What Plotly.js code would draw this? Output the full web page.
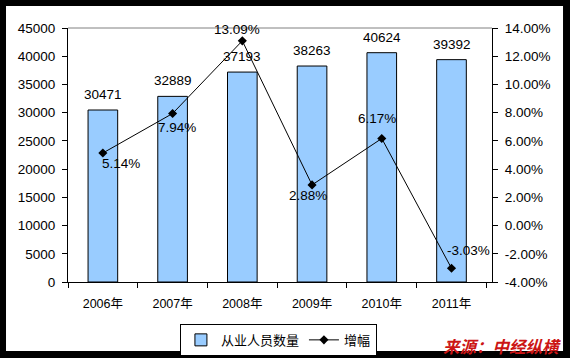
<!DOCTYPE html>
<html>
<head>
<meta charset="utf-8">
<script src="https://cdn.plot.ly/plotly-3.0.1.min.js"></script>
<style>
html,body{margin:0;padding:0;background:#000;}
#chart{width:570px;height:358px;}
</style>
</head>
<body>
<div id="chart"></div>
<script>
var years = ['2006年','2007年','2008年','2009年','2010年','2011年'];
var employees = [30471, 32889, 37193, 38263, 40624, 39392];
var growth = [5.14, 7.94, 13.09, 2.88, 6.17, -3.03];
var leftTicks = [0,5000,10000,15000,20000,25000,30000,35000,40000,45000];
var rightTicks = [-4,-2,0,2,4,6,8,10,12,14];
var rightTickText = ['-4.00%','-2.00%','0.00%','2.00%','4.00%','6.00%','8.00%','10.00%','12.00%','14.00%'];
// label offsets (pixels) for growth labels
var growthLabelDx = [18, 4, -5, -4, -5, 17];
var growthLabelDy = [-10, -14, 11, -11, 20, 18];

var fontFam = 'Arial, "Liberation Sans", "Noto Sans CJK SC", sans-serif';

var traces = [
  {
    type: 'bar', name: '从业人员数量', x: years, y: employees,
    width: 0.425,
    marker: {color: '#99CCFF', line: {color: '#000000', width: 1}},
    hoverinfo: 'none'
  },
  {
    type: 'scatter', mode: 'lines+markers', name: '增幅', x: years, y: growth,
    yaxis: 'y2',
    line: {color: '#000000', width: 1},
    marker: {symbol: 'diamond', size: 7, color: '#000000'},
    hoverinfo: 'none', cliponaxis: false
  }
];

var annotations = [];
for (var i = 0; i < years.length; i++) {
  annotations.push({
    x: years[i], y: employees[i], xref: 'x', yref: 'y',
    text: String(employees[i]), showarrow: false,
    yanchor: 'bottom', yshift: 6,
    font: {family: fontFam, size: 13.5, color: '#000000'}
  });
  annotations.push({
    x: years[i], y: growth[i], xref: 'x', yref: 'y2',
    text: growth[i].toFixed(2) + '%', showarrow: false,
    xshift: growthLabelDx[i], yshift: growthLabelDy[i],
    font: {family: fontFam, size: 13.5, color: '#000000'}
  });
}
annotations.push({
  xref: 'paper', yref: 'paper', x: 1.1675, y: -0.252,
  xanchor: 'right', yanchor: 'middle', showarrow: false,
  text: '<b><i>来源：中经纵横</i></b>',
  font: {family: '"Noto Sans CJK SC", sans-serif', size: 16.5, color: '#CC1515'}
});

var layout = {
  width: 570, height: 358,
  margin: {l: 68, r: 78, t: 28, b: 76, pad: 0, autoexpand: false},
  paper_bgcolor: '#000000',
  plot_bgcolor: '#FFFFFF',
  showlegend: true,
  font: {family: fontFam, size: 13, color: '#000000'},
  xaxis: {
    type: 'category', automargin: false,
    showline: true, linecolor: '#000000', linewidth: 1,
    ticks: 'outside', ticklen: 5, tickcolor: '#000000', tickson: 'boundaries',
    ticklabelstandoff: 10,
    tickfont: {family: fontFam, size: 12.5, color: '#000000'},
    showgrid: false, zeroline: false, fixedrange: true
  },
  yaxis: {
    range: [0, 45000], tickvals: leftTicks, ticktext: leftTicks.map(String),
    automargin: false,
    showline: true, linecolor: '#000000', linewidth: 1,
    ticks: 'outside', ticklen: 5, tickcolor: '#000000',
    ticklabelstandoff: 4,
    tickfont: {family: fontFam, size: 13.5, color: '#000000'},
    showgrid: false, zeroline: false, fixedrange: true
  },
  yaxis2: {
    overlaying: 'y', side: 'right',
    range: [-4, 14], tickvals: rightTicks, ticktext: rightTickText,
    automargin: false,
    showline: true, linecolor: '#000000', linewidth: 1,
    ticks: 'outside', ticklen: 5, tickcolor: '#000000',
    ticklabelstandoff: 4,
    tickfont: {family: fontFam, size: 13.5, color: '#000000'},
    showgrid: false, zeroline: false, fixedrange: true
  },
  legend: {
    orientation: 'h', x: 0.264, xanchor: 'left', y: -0.165, yanchor: 'top',
    bgcolor: '#FFFFFF', bordercolor: '#000000', borderwidth: 1,
    font: {family: fontFam, size: 13, color: '#000000'},
    itemwidth: 30, tracegroupgap: 0
  },
  shapes: [
    {type: 'rect', xref: 'paper', yref: 'paper', x0: -0.1462, x1: 1.1675, y0: -0.2717, y1: 1.0866,
     fillcolor: '#FFFFFF', line: {width: 0}, layer: 'below'},
    {type: 'line', xref: 'paper', yref: 'paper', x0: 0, x1: 1, y0: 1, y1: 1,
     line: {color: '#808080', width: 1}}
  ],
  annotations: annotations
};

Plotly.newPlot('chart', traces, layout, {displayModeBar: false, staticPlot: true});
</script>
</body>
</html>
